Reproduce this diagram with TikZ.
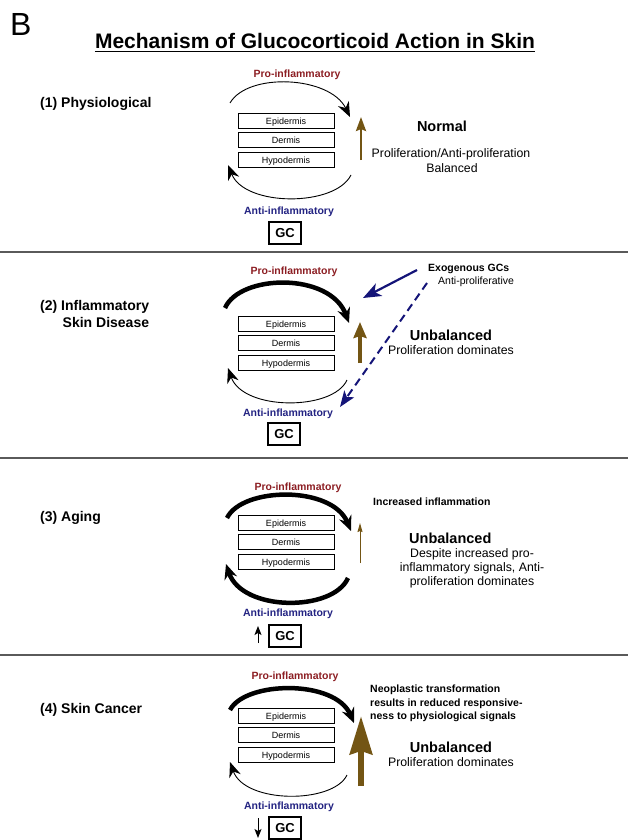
\documentclass[tikz,border=0pt]{standalone}
\usepackage{fontspec}
\setmainfont{Liberation Sans}
\usetikzlibrary{arrows.meta,calc}

\definecolor{prored}{RGB}{140,30,35}
\definecolor{antiblue}{RGB}{35,35,130}
\definecolor{growbrown}{RGB}{115,85,20}
\definecolor{exonavy}{RGB}{20,20,120}
\definecolor{sepgray}{RGB}{90,90,90}

\newcommand{\fsz}[2]{\fontsize{#1}{#2}\selectfont}

\tikzset{
  layer/.style={draw, line width=0.8pt, minimum width=96pt, minimum height=15pt, inner sep=0pt, text height=7.8pt, text depth=0pt, font=\fsz{9}{10}},
  gcbox/.style={draw, line width=1.2pt, minimum width=32pt, minimum height=22pt, inner sep=0pt, text height=9.5pt, text depth=0pt, font=\bfseries\fsz{13}{14}},
  panel/.style={anchor=west, inner sep=0pt, font=\bfseries\fsz{14}{16.5}},
  pro/.style={inner sep=0pt, text=prored, font=\bfseries\fsz{10.5}{12}},
  anti/.style={inner sep=0pt, text=antiblue, font=\bfseries\fsz{10.5}{12}},
  verdict/.style={inner sep=0pt, font=\bfseries\fsz{14.5}{16}},
  note/.style={inner sep=0pt, font=\fsz{12.3}{14}},
  remark/.style={inner sep=0pt, font=\bfseries\fsz{10.5}{13.2}},
  loop/.style={line width=0.9pt, -{Stealth[length=15pt,width=12pt,inset=5pt]}},
  heavyloop/.style={line width=4.5pt, -{Stealth[length=15pt,width=13pt,inset=5pt]}},
  sep/.style={draw=sepgray, line width=1.2pt}
}

\begin{document}
\begin{tikzpicture}[x=1pt,y=-1pt]
\useasboundingbox (0,0) rectangle (628,840);

% heading
\node[font=\fsz{32}{34}, anchor=west, inner sep=0pt] (letter) at (10,24) {B};
\node[font=\bfseries\fsz{21}{24}, inner sep=0pt] (title) at (315,41) {Mechanism of Glucocorticoid Action in Skin};
\draw[line width=1.8pt] ([yshift=-3pt]title.base west) -- ([yshift=-3pt]title.base east);

% separators
\draw[sep] (0,252) -- (628,252);
\draw[sep] (0,458) -- (628,458);
\draw[sep] (0,655) -- (628,655);

% skin layers
\foreach \p/\y in {1/120.5,2/323.5,3/522.5,4/715.5} {
  \node[layer] (epi\p) at (286,\y) {Epidermis};
  \node[layer] (der\p) at (286,{\y+19.5}) {Dermis};
  \node[layer] (hyp\p) at (286,{\y+39}) {Hypodermis};
}

% (1) physiological
\node[panel] (lab1) at (40,104) {(1) Physiological};
\node[pro] (pro1) at (297,75) {Pro-inflammatory};
\node[anti] (anti1) at (289,212) {Anti-inflammatory};
\node[gcbox] (gc1) at (285,233) {GC};
\node[verdict] (norm1) at (442,126) {Normal};
\node[note] (bal1) at (451,154) {Proliferation/Anti-proliferation};
\node[note] (bal1b) at (452,168) {Balanced};
\coordinate (t1s) at (230,103);
\coordinate (t1e) at (350,117);
\coordinate (b1s) at (351,175);
\coordinate (b1e) at (228,165);
\draw[loop] (t1s) .. controls (248,72) and (330,76) .. (t1e);
\draw[loop] (b1s) .. controls (335,207) and (245,207) .. (b1e);
\coordinate (g1s) at (361,160);
\coordinate (g1e) at (361,117);
\draw[growbrown, line width=2.5pt, -{Stealth[length=14pt,width=10pt,inset=2pt]}] (g1s) -- (g1e);

% (2) inflammatory skin disease
\node[panel, align=right] (lab2) at (40,314) {(2) Inflammatory\\Skin Disease};
\node[pro] (pro2) at (294,272) {Pro-inflammatory};
\node[anti] (anti2) at (288,414) {Anti-inflammatory};
\node[gcbox] (gc2) at (284,434) {GC};
\node[verdict] (unb2) at (451,335) {Unbalanced};
\node[note] (dom2) at (451,350) {Proliferation dominates};
\node[remark, anchor=west] (exo2) at (428,269) {Exogenous GCs};
\node[inner sep=0pt, anchor=west, font=\fsz{10.5}{12}] (anp2) at (438,282) {Anti-proliferative};
\coordinate (t2s) at (225,308);
\coordinate (t2e) at (349,323);
\coordinate (b2s) at (347,380);
\coordinate (b2e) at (228,368);
\draw[heavyloop] (t2s) .. controls (240,274) and (330,272) .. (t2e);
\draw[loop] (b2s) .. controls (333,411) and (243,411) .. (b2e);
\coordinate (g2s) at (360,363);
\coordinate (g2e) at (360,322);
\draw[growbrown, line width=4pt, -{Stealth[length=16pt,width=13pt,inset=2pt]}] (g2s) -- (g2e);
\coordinate (x2a) at (417,270);
\coordinate (x2b) at (363,298);
\coordinate (x2c) at (427,283);
\coordinate (x2d) at (340,407);
\draw[exonavy, line width=2.2pt, -{Stealth[length=18pt,width=14pt,inset=5pt]}] (x2a) -- (x2b);
\draw[exonavy, line width=2pt, dash pattern=on 8pt off 5pt, -{Stealth[length=16pt,width=12pt,inset=4pt]}] (x2c) -- (x2d);

% (3) aging
\node[panel] (lab3) at (40,518) {(3) Aging};
\node[pro] (pro3) at (298,488) {Pro-inflammatory};
\node[anti] (anti3) at (288,614) {Anti-inflammatory};
\node[gcbox] (gc3) at (285,636) {GC};
\node[remark, anchor=west] (inc3) at (373,502) {Increased inflammation};
\node[verdict, anchor=west] (unb3) at (409,538) {Unbalanced};
\node[note, align=center] (dom3) at (472,568) {Despite increased pro-\\inflammatory signals, Anti-\\proliferation dominates};
\coordinate (t3s) at (227,518);
\coordinate (t3e) at (351,531);
\coordinate (b3s) at (348,578);
\coordinate (b3e) at (226,564);
\draw[heavyloop] (t3s) .. controls (242,487) and (332,485) .. (t3e);
\draw[heavyloop] (b3s) .. controls (333,612) and (242,612) .. (b3e);
\coordinate (g3s) at (360,563);
\coordinate (g3e) at (360,523);
\draw[growbrown, line width=1pt, -{Stealth[length=9pt,width=5pt,inset=1pt]}] (g3s) -- (g3e);
\coordinate (u3s) at (258,643);
\coordinate (u3e) at (258,626);
\draw[line width=1pt, -{Stealth[length=9pt,width=7pt,inset=2pt]}] (u3s) -- (u3e);

% (4) skin cancer
\node[panel] (lab4) at (40,710) {(4) Skin Cancer};
\node[pro] (pro4) at (295,677) {Pro-inflammatory};
\node[anti] (anti4) at (289,807) {Anti-inflammatory};
\node[gcbox] (gc4) at (285,828) {GC};
\node[remark, anchor=north west, align=left] (neo4) at (370,685) {Neoplastic transformation\\results in reduced responsive-\\ness to physiological signals};
\node[verdict] (unb4) at (451,747) {Unbalanced};
\node[note] (dom4) at (451,762) {Proliferation dominates};
\coordinate (t4s) at (230,710);
\coordinate (t4e) at (354,723);
\coordinate (b4s) at (347,775);
\coordinate (b4e) at (230,762);
\draw[heavyloop] (t4s) .. controls (245,681) and (335,679) .. (t4e);
\draw[loop] (b4s) .. controls (333,804) and (245,804) .. (b4e);
\coordinate (g4s) at (361,786);
\coordinate (g4e) at (361,716);
\draw[growbrown, line width=6.5pt, -{Stealth[length=38pt,width=22pt,inset=3pt]}] (g4s) -- (g4e);
\coordinate (d4s) at (258,818);
\coordinate (d4e) at (258,838);
\draw[line width=1pt, -{Stealth[length=9pt,width=7pt,inset=2pt]}] (d4s) -- (d4e);
\end{tikzpicture}
\end{document}
